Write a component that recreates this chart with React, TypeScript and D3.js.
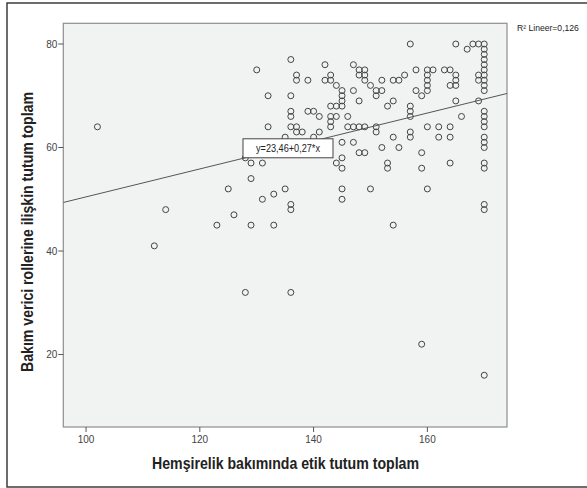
import React from "react";
import * as d3 from "d3";

// Hemşirelik bakımında etik tutum toplam (x) vs Bakım verici rollerine ilişkin tutum toplam (y)
const ethicScores: number[] = [
  102, 112, 114, 123, 125, 126, 128, 128, 129, 129, 129, 130, 131, 131, 132, 132, 133, 133,
  135, 135, 136, 136, 136, 136, 136, 136, 136, 136, 137, 137, 137, 137, 138, 139, 139, 140,
  140, 141, 141, 142, 142, 143, 143, 143, 143, 143, 143, 144, 144, 144, 144, 145, 145, 145,
  145, 145, 145, 145, 145, 145, 146, 146, 147, 147, 147, 147, 148, 148, 148, 148, 148, 149,
  149, 149, 149, 149, 150, 150, 151, 151, 151, 151, 152, 152, 152, 153, 153, 153, 154, 154,
  154, 154, 155, 155, 156, 157, 157, 157, 157, 157, 157, 158, 158, 159, 159, 159, 159, 160,
  160, 160, 160, 160, 160, 160, 161, 162, 162, 163, 164, 164, 164, 164, 164, 165, 165, 165,
  165, 165, 166, 167, 168, 169, 169, 169, 169,
  170, 170, 170, 170, 170, 170, 170, 170, 170, 170,
  170, 170, 170, 170, 170, 170, 170, 170, 170, 170, 170, 170,
];

const caregiverScores: number[] = [
  64, 41, 48, 45, 52, 47, 58, 32, 57, 54, 45, 75, 57, 50, 70, 64, 51, 45,
  62, 52, 77, 70, 67, 66, 64, 49, 48, 32, 74, 73, 64, 63, 63, 73, 67, 67,
  62, 66, 63, 76, 73, 74, 73, 68, 66, 65, 64, 72, 68, 66, 57, 71, 70, 69,
  68, 61, 58, 56, 52, 50, 66, 64, 76, 71, 64, 61, 75, 74, 69, 64, 59, 75,
  74, 73, 64, 59, 72, 52, 71, 70, 64, 63, 73, 71, 60, 68, 57, 56, 73, 69,
  62, 45, 73, 60, 74, 80, 68, 67, 66, 63, 62, 75, 71, 70, 59, 56, 22, 75,
  74, 73, 72, 71, 64, 52, 75, 64, 62, 75, 75, 72, 64, 62, 57, 80, 74, 73,
  72, 69, 66, 79, 80, 80, 74, 73, 69,
  80, 79, 78, 77, 76, 75, 74, 73, 72, 71,
  67, 66, 65, 64, 62, 61, 60, 57, 56, 49, 48, 16,
];

const xTicks: number[] = [100, 120, 140, 160];
const yTicks: number[] = [20, 40, 60, 80];

// Fitted linear model shown on the chart
const intercept = 23.46;
const slope = 0.27;
const rSquared = 0.126;

const xTitle = "Hemşirelik bakımında etik tutum toplam";
const yTitle = "Bakım verici rollerine ilişkin tutum toplam";

const fmtComma = (v: number, digits: number) => v.toFixed(digits).replace(".", ",");

export default function App() {
  const width = 587;
  const height = 488;
  const plot = { left: 63.3, top: 23.3, right: 507, bottom: 427 };

  const x = d3.scaleLinear().domain([96, 174]).range([plot.left, plot.right]);
  const y = d3.scaleLinear().domain([6, 84]).range([plot.bottom, plot.top]);

  const fit = (v: number) => intercept + slope * v;
  const [x0, x1] = x.domain();
  const lineGen = d3
    .line<number>()
    .x((d) => x(d))
    .y((d) => y(fit(d)));

  const points = ethicScores.map((v, i) => ({ x: v, y: caregiverScores[i] }));

  // equation label anchored on the fitted line
  const labelAt = 135.5;
  const boxW = 90;
  const boxH = 19;
  const boxCx = x(labelAt);
  const boxCy = y(fit(labelAt)) + 1;

  const font = "'Liberation Sans', Arial, sans-serif";
  const equation = `y=${fmtComma(intercept, 2)}+${fmtComma(slope, 2)}*x`;
  const rLabel = `R² Lineer=${fmtComma(rSquared, 3)}`;

  return (
    <svg
      width={width}
      height={height}
      style={{ position: "absolute", left: 0, top: 0, background: "#fff" }}
      fontFamily={font}
    >
      <rect x={7} y={3} width={600} height={484} fill="#fff" stroke="#3c3c3c" strokeWidth={1.5} />

      <rect
        x={plot.left}
        y={plot.top}
        width={plot.right - plot.left}
        height={plot.bottom - plot.top}
        fill="#f1f3f2"
        stroke="#8e8e8e"
        strokeWidth={1.2}
      />

      {/* y axis */}
      {yTicks.map((t) => (
        <g key={"y" + t}>
          <line x1={plot.left - 5} x2={plot.left} y1={y(t)} y2={y(t)} stroke="#555" strokeWidth={1} />
          <text x={plot.left - 6} y={y(t) + 3.5} textAnchor="end" fontSize={10} fill="#444">
            {t}
          </text>
        </g>
      ))}

      {/* x axis */}
      {xTicks.map((t) => (
        <g key={"x" + t}>
          <line x1={x(t)} x2={x(t)} y1={plot.bottom} y2={plot.bottom + 5} stroke="#555" strokeWidth={1} />
          <text x={x(t)} y={plot.bottom + 16} textAnchor="middle" fontSize={10} fill="#444">
            {t}
          </text>
        </g>
      ))}

      <clipPath id="plotClip">
        <rect x={plot.left} y={plot.top} width={plot.right - plot.left} height={plot.bottom - plot.top} />
      </clipPath>

      <g clipPath="url(#plotClip)">
        {points.map((p, i) => (
          <circle
            key={i}
            cx={x(p.x)}
            cy={y(p.y)}
            r={3}
            fill="none"
            stroke="#444"
            strokeWidth={1}
          />
        ))}
        <path d={lineGen([x0, x1]) || ""} fill="none" stroke="#555" strokeWidth={1} />
      </g>

      <rect
        x={boxCx - boxW / 2}
        y={boxCy - boxH / 2}
        width={boxW}
        height={boxH}
        fill="#fff"
        stroke="#444"
        strokeWidth={1}
      />
      <text
        x={boxCx}
        y={boxCy + 3.5}
        textAnchor="middle"
        fontSize={10}
        fill="#222"
        textLength={64}
        lengthAdjust="spacingAndGlyphs"
      >
        {equation}
      </text>

      <text x={517} y={31} fontSize={8.6} fill="#222">
        {rLabel}
      </text>

      <text
        x={285.5}
        y={469}
        textAnchor="middle"
        fontSize={17}
        fontWeight="bold"
        fill="#222"
        textLength={267}
        lengthAdjust="spacingAndGlyphs"
      >
        {xTitle}
      </text>

      <text
        transform={`translate(33, 232) rotate(-90)`}
        textAnchor="middle"
        fontSize={17}
        fontWeight="bold"
        fill="#222"
        textLength={280}
        lengthAdjust="spacingAndGlyphs"
      >
        {yTitle}
      </text>
    </svg>
  );
}
